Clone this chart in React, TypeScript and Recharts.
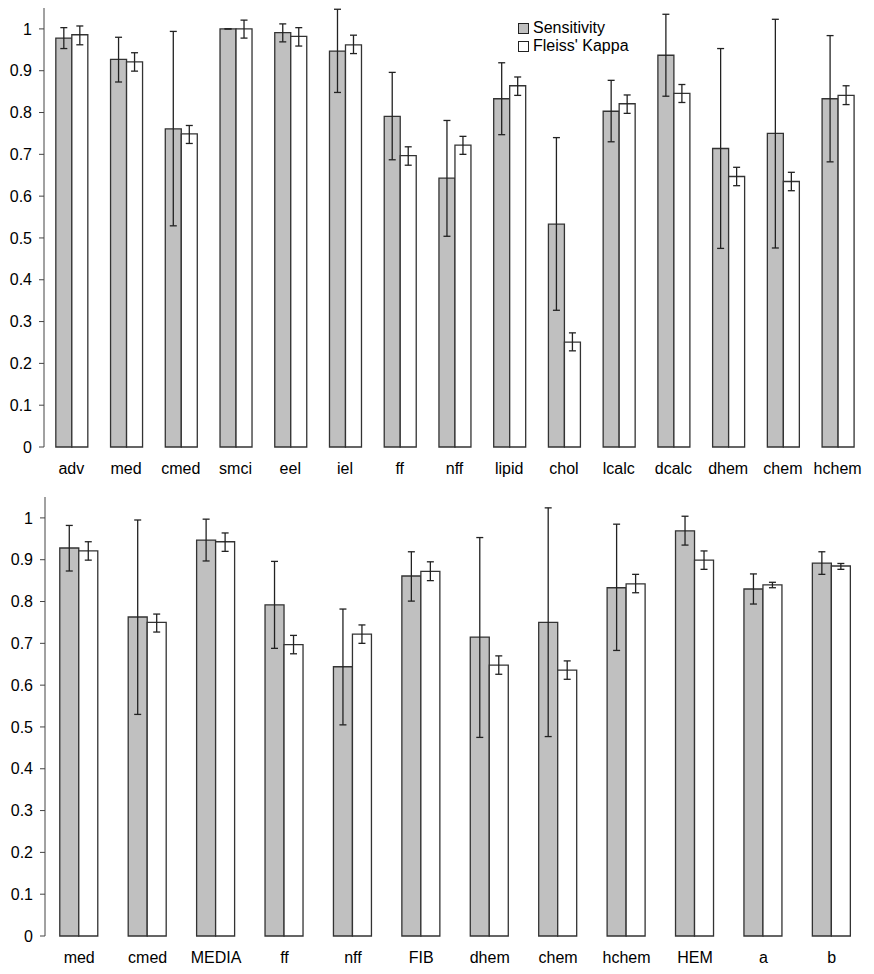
import React from "react";
import { BarChart, Bar, XAxis, YAxis, ErrorBar } from "recharts";

// top panel
const cats1 = ["adv", "med", "cmed", "smci", "eel", "iel", "ff", "nff", "lipid", "chol", "lcalc", "dcalc", "dhem", "chem", "hchem"];
const sens1 = [0.978, 0.927, 0.761, 1.0, 0.991, 0.947, 0.791, 0.643, 0.833, 0.533, 0.803, 0.937, 0.714, 0.75, 0.833];
const sensLo1 = [0.953, 0.873, 0.529, 1.0, 0.969, 0.848, 0.687, 0.504, 0.747, 0.327, 0.73, 0.839, 0.475, 0.476, 0.682];
const sensHi1 = [1.003, 0.98, 0.994, 1.0, 1.012, 1.047, 0.896, 0.781, 0.919, 0.74, 0.877, 1.035, 0.953, 1.023, 0.984];
const kappa1 = [0.986, 0.921, 0.749, 1.0, 0.982, 0.962, 0.697, 0.722, 0.864, 0.251, 0.821, 0.846, 0.647, 0.635, 0.841];
const kappaLo1 = [0.962, 0.899, 0.726, 0.978, 0.959, 0.941, 0.674, 0.7, 0.841, 0.23, 0.798, 0.824, 0.625, 0.613, 0.819];
const kappaHi1 = [1.007, 0.943, 0.769, 1.021, 1.003, 0.985, 0.718, 0.743, 0.885, 0.273, 0.842, 0.867, 0.669, 0.657, 0.864];

// bottom panel
const cats2 = ["med", "cmed", "MEDIA", "ff", "nff", "FIB", "dhem", "chem", "hchem", "HEM", "a", "b"];
const sens2 = [0.928, 0.763, 0.947, 0.792, 0.644, 0.861, 0.715, 0.75, 0.833, 0.969, 0.83, 0.892];
const sensLo2 = [0.873, 0.53, 0.897, 0.688, 0.505, 0.801, 0.475, 0.477, 0.683, 0.935, 0.794, 0.865];
const sensHi2 = [0.982, 0.995, 0.997, 0.896, 0.782, 0.919, 0.953, 1.024, 0.985, 1.004, 0.866, 0.919];
const kappa2 = [0.921, 0.75, 0.943, 0.697, 0.722, 0.872, 0.648, 0.636, 0.842, 0.899, 0.84, 0.885];
const kappaLo2 = [0.899, 0.727, 0.92, 0.675, 0.7, 0.85, 0.626, 0.614, 0.821, 0.877, 0.833, 0.877];
const kappaHi2 = [0.943, 0.77, 0.964, 0.719, 0.744, 0.895, 0.67, 0.658, 0.865, 0.921, 0.846, 0.891];

const yTicks = [0, 0.1, 0.2, 0.3, 0.4, 0.5, 0.6, 0.7, 0.8, 0.9, 1];
const seriesNames = ["Sensitivity", "Fleiss' Kappa"];

const FONT = "'Liberation Sans', Arial, sans-serif";
const AXIS = "#444";
const EDGE = "#333";
const GRAY = "#c0c0c0";

const buildRows = (
  cats: string[],
  sens: number[],
  sensLo: number[],
  sensHi: number[],
  kappa: number[],
  kappaLo: number[],
  kappaHi: number[]
) =>
  cats.map((name, i) => ({
    name,
    sens: sens[i],
    sensErr: [sens[i] - sensLo[i], sensHi[i] - sens[i]],
    kappa: kappa[i],
    kappaErr: [kappa[i] - kappaLo[i], kappaHi[i] - kappa[i]],
  }));

// legend sits inside the plot, so it is drawn as an overlay (a recharts Legend would eat plot height)
const LegendBox = () => (
  <div
    style={{
      position: "absolute",
      left: 518,
      top: 19,
      fontFamily: FONT,
      fontSize: 16,
      lineHeight: "18px",
      color: "#000",
    }}
  >
    {seriesNames.map((label, i) => (
      <div key={label} style={{ display: "flex", alignItems: "center" }}>
        <span
          style={{
            display: "inline-block",
            width: 9,
            height: 9,
            background: i === 0 ? GRAY : "#fff",
            border: "1px solid #222",
            marginRight: 4,
          }}
        />
        {label}
      </div>
    ))}
  </div>
);

type PanelProps = {
  rows: ReturnType<typeof buildRows>;
  height: number;
  top: number;
  yWidth: number;
  right: number;
  xHeight: number;
};

const Panel = ({ rows, height, top, yWidth, right, xHeight }: PanelProps) => (
  <BarChart
    width={874}
    height={height}
    data={rows}
    margin={{ top, right, bottom: 0, left: 0 }}
    barCategoryGap="21.6%"
    barGap={0}
  >
    {/* numeric twin axis only for the tick marks between categories */}
    <XAxis
      xAxisId="edge"
      type="number"
      domain={[0, rows.length]}
      ticks={rows.map((_r, i) => i).concat(rows.length)}
      allowDataOverflow
      height={0}
      tick={false}
      tickSize={5}
      stroke={AXIS}
    />
    <XAxis
      xAxisId="cat"
      dataKey="name"
      type="category"
      height={xHeight}
      axisLine={false}
      tickLine={false}
      tickSize={5}
      tickMargin={11}
      interval={0}
      tick={{ fill: "#000", fontSize: 16, fontFamily: FONT }}
    />
    <YAxis
      type="number"
      domain={[0, 1.05]}
      ticks={yTicks}
      width={yWidth}
      tickSize={5}
      tickMargin={7}
      stroke={AXIS}
      tick={{ fill: "#000", fontSize: 16, fontFamily: FONT }}
    />
    <Bar xAxisId="cat" dataKey="sens" name={seriesNames[0]} fill={GRAY} stroke={EDGE} strokeWidth={1.3} isAnimationActive={false}>
      <ErrorBar dataKey="sensErr" width={3.5} stroke="#222" strokeWidth={1.3} />
    </Bar>
    <Bar xAxisId="cat" dataKey="kappa" name={seriesNames[1]} fill="#fff" stroke={EDGE} strokeWidth={1.3} isAnimationActive={false}>
      <ErrorBar dataKey="kappaErr" width={3.5} stroke="#222" strokeWidth={1.3} />
    </Bar>
  </BarChart>
);

export default function App() {
  const rows1 = buildRows(cats1, sens1, sensLo1, sensHi1, kappa1, kappaLo1, kappaHi1);
  const rows2 = buildRows(cats2, sens2, sensLo2, sensHi2, kappa2, kappaLo2, kappaHi2);
  return (
    <div style={{ position: "absolute", left: 0, top: 0, width: 874, height: 974, background: "#fff" }}>
      <div style={{ position: "absolute", left: 0, top: 0 }}>
        <Panel rows={rows1} height={488} top={8} yWidth={44} right={9} xHeight={41} />
      </div>
      <LegendBox />
      <div style={{ position: "absolute", left: 0, top: 488 }}>
        <Panel rows={rows2} height={486} top={9} yWidth={45} right={8} xHeight={38} />
      </div>
    </div>
  );
}
